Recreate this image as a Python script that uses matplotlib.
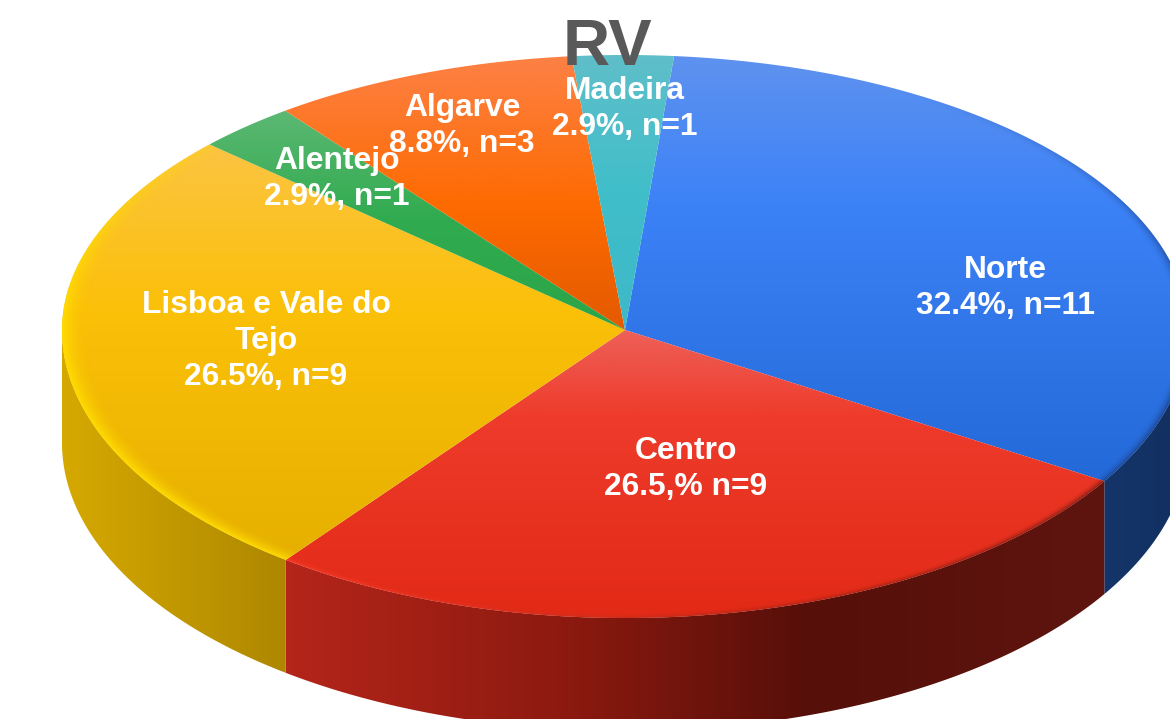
import numpy as np
import matplotlib
matplotlib.use("Agg")
import matplotlib.pyplot as plt
from matplotlib.colors import LinearSegmentedColormap, to_rgb
from matplotlib.patches import Polygon

# Data
regions = ["Norte", "Centro", "Lisboa e Vale do Tejo", "Alentejo", "Algarve", "Madeira"]
percents = [32.4, 26.5, 26.5, 2.9, 8.8, 2.9]
labels = [
    "Norte\n32.4%, n=11",
    "Centro\n26.5,% n=9",
    "Lisboa e Vale do\nTejo\n26.5%, n=9",
    "Alentejo\n2.9%, n=1",
    "Algarve\n8.8%, n=3",
    "Madeira\n2.9%, n=1",
]

# Pie geometry, in pixels (the front half is a bit deeper than the back half)
cx, cy = 625, 330
rx = 563
ry_back, ry_front = 275, 288
depth = 113
start_angle = 85

# Top colours: light edge, base, dark end of each slice
top_colors = [
    [(0, "#5f92ef"), (0.35, "#3c82f7"), (1, "#2469d8")],
    [(0, "#ee6058"), (0.3, "#ee3b2b"), (1, "#e22a16")],
    [(0, "#fcc443"), (0.4, "#fbc008"), (1, "#e6b000")],
    [(0, "#5cb873"), (0.5, "#30ab4f"), (1, "#2ba548")],
    [(0, "#fd8145"), (0.55, "#fd6a00"), (1, "#e45a00")],
    [(0, "#5fbfca"), (0.5, "#40bec9"), (1, "#3db8c8")],
]
# Side colours, left to right
side_colors = [
    [(0, "#15356a"), (1, "#11305f")],
    [(0, "#b4251a"), (0.33, "#8e1a10"), (0.64, "#560f09"), (1, "#5f150f")],
    [(0, "#d6a900"), (1, "#ae8700")],
]
# Rim along the outer edge: colour at left, colour at right, width, strength
rims = [
    ("#1a3f85", "#173a7c", 0.022, 0.8),
    ("#ff3f2d", "#6a150d", 0.02, 0.9),
    ("#ffdc00", "#ffdc00", 0.045, 1.0),
    None,
    None,
    None,
]

label_pos = [(1005, 288), (686, 469), (266, 341), (337, 179), (462, 126), (625, 109)]

# Slice edges from the percentages
fractions = np.array(percents) / sum(percents)
edges = start_angle - 360 * np.concatenate([[0], np.cumsum(fractions)])


def arc(a0, a1, n=300):
    t = np.radians(np.linspace(a0, a1, n))
    s = np.sin(t)
    return np.column_stack([cx + rx * np.cos(t), cy - np.where(s > 0, ry_back, ry_front) * s])


def clip_to(ax, im, poly):
    patch = Polygon(poly, closed=True, transform=ax.transData, fc="none", ec="none")
    ax.add_patch(patch)
    im.set_clip_path(patch)


def fill_gradient(ax, poly, stops, vertical=True):
    # gradient image clipped to the polygon
    cmap = LinearSegmentedColormap.from_list("g", stops)
    x0, y0 = poly.min(axis=0)
    x1, y1 = poly.max(axis=0)
    grad = np.linspace(0, 1, 256)
    grad = grad[:, None] if vertical else grad[None, :]
    im = ax.imshow(grad, cmap=cmap, extent=(x0, x1, y1, y0), aspect="auto",
                   interpolation="bilinear", vmin=0, vmax=1, zorder=2)
    clip_to(ax, im, poly)


fig = plt.figure(figsize=(11.7, 7.19), dpi=100)
ax = fig.add_axes([0, 0, 1, 1])

# Sides: only the front half of the rim shows
sides = [(edges[0], edges[1]), (edges[1], edges[2]), (edges[2], edges[3])]
for (a0, a1), stops in zip(sides, side_colors):
    lo, hi = max(a1, -180), min(a0, 0)
    front = arc(hi, lo)
    poly = np.vstack([front, (front + [0, depth])[::-1]])
    fill_gradient(ax, poly, stops, vertical=False)

# Top slices
yy, xx = np.mgrid[0:719, 0:1240]
ry_map = np.where(yy > cy, ry_front, ry_back)
r = np.sqrt(((xx - cx) / rx) ** 2 + ((yy - cy) / ry_map) ** 2)
fade = np.clip((yy - 90) / 240, 0, 1)

for i in range(len(percents)):
    poly = np.vstack([[cx, cy], arc(edges[i], edges[i + 1])])
    fill_gradient(ax, poly, top_colors[i])
    if rims[i] is not None:
        left, right, width, strength = rims[i]
        x0, x1 = poly[:, 0].min(), poly[:, 0].max()
        mix = np.clip((xx - x0) / (x1 - x0), 0, 1)[..., None]
        overlay = np.zeros(r.shape + (4,))
        overlay[..., :3] = (1 - mix) * np.array(to_rgb(left)) + mix * np.array(to_rgb(right))
        overlay[..., 3] = np.clip(1 - (1 - r) / width, 0, 1) ** 2 * fade * strength
        im = ax.imshow(overlay, extent=(0, 1240, 719, 0), aspect="auto", zorder=3)
        clip_to(ax, im, poly)

ax.set_xlim(0, 1170)
ax.set_ylim(719, 0)
ax.axis("off")

# Labels
font = ["Liberation Sans", "DejaVu Sans"]
for text, (x, y) in zip(labels, label_pos):
    ax.text(x, y, text, color="white", fontsize=22.9, fontweight="bold", family=font,
            ha="center", va="center", linespacing=1.26, zorder=5)

ax.text(607, 48, "RV", color="#595959", fontsize=47, fontweight="bold", family=font,
        ha="center", va="center", zorder=6)

fig.savefig("out.png", dpi=100)
